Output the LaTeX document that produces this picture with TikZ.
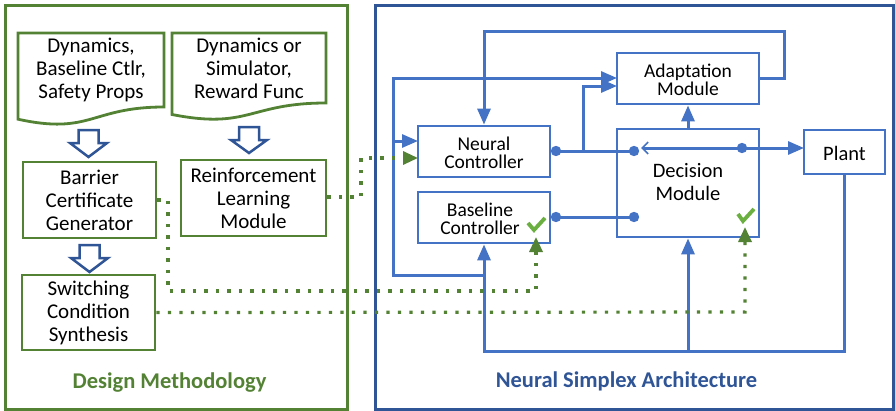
\documentclass[tikz,border=0pt]{standalone}
\usepackage{fontspec}
\setmainfont{Carlito}
\usetikzlibrary{arrows.meta}
\definecolor{gr}{HTML}{548235}
\definecolor{lgr}{HTML}{6AAF3F}
\definecolor{bl}{HTML}{4472C4}
\definecolor{dbl}{HTML}{2F5597}
\begin{document}
\begin{tikzpicture}[x=1pt,y=-1pt,
 gbox/.style={draw=gr,line width=2.8pt,fill=white,align=center,inner sep=0pt,font=\fontsize{21}{23}\selectfont},
 bbox/.style={draw=bl,line width=2.8pt,fill=white,align=center,inner sep=0pt},
 btxt/.style={align=center,inner sep=0pt,font=\fontsize{19.5}{18.5}\selectfont},
 gtxt/.style={align=center,inner sep=0pt,font=\fontsize{21}{23}\selectfont},
 conn/.style={draw=bl,line width=3pt},
 arr/.style={conn,-{Triangle[length=16pt,width=13pt]}},
 gdot/.style={draw=gr,line width=3.2pt,dash pattern=on 3.2pt off 8.3pt},
 garr/.style={gdot,-{Triangle[length=15pt,width=13pt,fill=gr]}},
 hol/.style={draw=dbl,line width=2.5pt,fill=white,line join=miter},
 chk/.style={draw=lgr,line width=3.8pt},
 bdot/.style={fill=bl},
 ttl/.style={anchor=base,inner sep=0pt,font=\bfseries\fontsize{22.5}{24}\selectfont}
]
\useasboundingbox (0,0) rectangle (895,410);

% frames
\node[draw=gr,line width=2.8pt,minimum width=342pt,minimum height=404pt,anchor=north west,inner sep=0pt] (dmframe) at (4,4) {};
\node[draw=dbl,line width=2.8pt,minimum width=518pt,minimum height=404pt,anchor=north west,inner sep=0pt] (nsaframe) at (374,4) {};
\node[ttl,text=gr] (dmtitle) at (169.5,388) {Design Methodology};
\node[ttl,text=dbl] (nsatitle) at (626.5,387) {Neural Simplex Architecture};

% documents
\draw[draw=gr,line width=2.8pt,fill=white] (18,33) -- (164,33) -- (164,107) .. controls (91,107) and (91,135.2) .. (18,119.2) -- cycle;
\node[gtxt] (doc1) at (91,70) {Dynamics,\\Baseline Ctlr,\\Safety Props};
\draw[draw=gr,line width=2.8pt,fill=white] (172,33) -- (326,33) -- (326,103) .. controls (249,103) and (249,129.7) .. (172,114.5) -- cycle;
\node[gtxt] (doc2) at (249,68) {Dynamics or\\Simulator,\\Reward Func};

% hollow arrows
\draw[hol] (78.5,130) -- (98.5,130) -- (98.5,143) -- (107,143) -- (88.5,157) -- (70,143) -- (78.5,143) -- cycle;
\draw[hol] (239,127) -- (259,127) -- (259,140) -- (267,140) -- (249,153) -- (231,140) -- (239,140) -- cycle;
\draw[hol] (79.5,245) -- (99.5,245) -- (99.5,258) -- (108,258) -- (89.5,272) -- (71,258) -- (79.5,258) -- cycle;

% left boxes
\node[gbox,minimum width=133pt,minimum height=76pt] (bcg) at (89.5,200) {Barrier\\Certificate\\Generator};
\node[gbox,minimum width=145pt,minimum height=76pt] (rlm) at (253.5,198) {Reinforcement\\Learning\\Module};
\node[gbox,minimum width=133pt,minimum height=75pt] (scs) at (88.5,312.5) {Switching\\Condition\\Synthesis};

% right boxes
\node[bbox,minimum width=132pt,minimum height=51pt] (nc) at (484,151.5) {};
\node[btxt] (nct) at (484,153) {Neural\\Controller};
\node[bbox,minimum width=132pt,minimum height=51pt] (bc) at (484,217.5) {};
\node[btxt] (bct) at (480,219) {Baseline\\Controller};
\node[bbox,minimum width=142pt,minimum height=51pt] (am) at (688,78.5) {};
\node[btxt] (amt) at (688,80) {Adaptation\\Module};
\node[bbox,minimum width=142pt,minimum height=108pt] (dm) at (688,183) {};
\node[btxt,font=\fontsize{20.5}{23}\selectfont] (dmt) at (688,182) {Decision\\Module};
\node[bbox,minimum width=81pt,minimum height=44pt] (pl) at (844.5,152) {};
\node[btxt,font=\fontsize{20.5}{23}\selectfont] (plt) at (844.5,153) {Plant};

% coordinates
\coordinate (ncdot) at (556,151);
\coordinate (dmdotA) at (634,151);
\coordinate (bcdot) at (556,217);
\coordinate (dmdotB) at (634,217);
\coordinate (dmdotC) at (742,148);
\coordinate (brA) at (583,151);
\coordinate (brAt) at (583,86);
\coordinate (amin2) at (617,86);
\coordinate (amin1) at (617,78);
\coordinate (amout) at (759,78);
\coordinate (fbA) at (784,78);
\coordinate (fbB) at (784,31);
\coordinate (fbC) at (484,31);
\coordinate (lpA) at (484,275);
\coordinate (lpB) at (393,275);
\coordinate (lpC) at (393,78);
\coordinate (lpD) at (393,141);
\coordinate (ncin) at (418,141);
\coordinate (plbot) at (844.5,351);
\coordinate (bcbot) at (484,351);
\coordinate (dmbot) at (688,351);
\coordinate (barbtip) at (641,148);
\coordinate (plin) at (804,148);

% blue connectors
\draw[conn] (ncdot) -- (dmdotA);
\draw[conn] (bcdot) -- (dmdotB);
\draw[arr] (brA) -- (brAt) -- (amin2);
\draw[arr] (lpA) -- (lpB) -- (lpC) -- (amin1);
\draw[arr] (lpD) -- (ncin);
\draw[arr] (amout) -- (fbA) -- (fbB) -- (fbC) -- (nc.north);
\draw[arr] (pl.south) -- (plbot) -- (bcbot) -- (bc.south);
\draw[arr] (dmbot) -- (dm.south);
\draw[arr] (dm.north) -- (am.south);
\draw[conn,-{Straight Barb[length=6pt,width=12pt,line width=1.6pt]}] (dmdotC) -- (barbtip);
\draw[arr] (dmdotC) -- (plin);
\fill[bdot] (ncdot) circle[radius=5.2pt];
\fill[bdot] (dmdotA) circle[radius=5.2pt];
\fill[bdot] (bcdot) circle[radius=5.2pt];
\fill[bdot] (dmdotB) circle[radius=5.2pt];
\fill[bdot] (dmdotC) circle[radius=5.2pt];

% green dotted connectors
\coordinate (rlA) at (361,197);
\coordinate (rlB) at (361,158);
\coordinate (ncg) at (418,158);
\coordinate (bgA) at (168,200);
\coordinate (bgB) at (168,291);
\coordinate (bgC) at (536,291);
\coordinate (bgT) at (536,237);
\coordinate (sgA) at (745,312);
\coordinate (sgT) at (745,227);
\draw[garr] (rlm.east |- rlA) -- (rlA) -- (rlB) -- (ncg);
\draw[garr] (bcg.east) -- (bgA) -- (bgB) -- (bgC) -- (bgT);
\draw[garr] (scs.east) -- (sgA) -- (sgT);

% checks
\draw[chk] (528,223) -- (534,230) -- (545,218);
\draw[chk] (738,214) -- (743,221) -- (754,209);
\end{tikzpicture}
\end{document}
